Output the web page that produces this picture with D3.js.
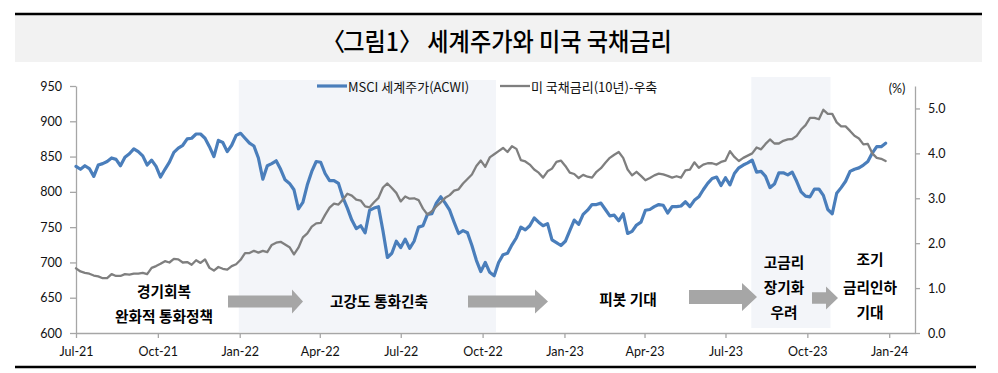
<!DOCTYPE html>
<html><head><meta charset="utf-8">
<script src="https://cdn.jsdelivr.net/npm/d3@7"></script>
<style>body{margin:0;background:#fff}svg{display:block}</style>
</head><body><svg id="c" width="998" height="373"></svg>
<script>
// ---------- DATA ----------
const titleParts = ["〈", "그림1", "〉", " 세계주가와 미국 국채금리"];
const seriesNames = ["MSCI 세계주가(ACWI)", "미 국채금리(10년)-우축"];
const startDate = "2021-07-01";   // first observation
const stepDays = 5;               // observations every 5 calendar days
const msci = [
836,832,837,833,822,838,840,843,848,846,
837,849,854,861,857,851,838,845,836,821,
832,842,856,862,866,875,876,882,882,876,
864,850,873,870,857,866,880,883,876,869,
865,848,818,837,840,844,832,817,812,803,
776,785,810,829,843,842,826,816,816,812,
792,777,760,748,752,742,774,777,779,745,
707,713,730,721,733,720,730,750,752,768,
769,784,793,784,774,757,741,745,742,724,
703,687,700,686,681,700,711,713,725,735,
750,746,752,763,757,752,755,732,728,724,
730,745,760,754,768,774,782,782,784,775,
766,767,759,769,741,744,753,757,774,775,
779,782,781,770,779,779,780,786,779,788,
793,803,812,819,821,809,820,810,826,834,
838,841,845,828,829,822,806,811,827,827,
824,828,815,800,794,793,804,804,795,775,
769,798,806,815,829,832,834,838,843,855,
864,864,869];
const ust10 = [
1.44,1.37,1.34,1.32,1.28,1.26,1.22,1.22,1.31,1.27,
1.27,1.31,1.30,1.32,1.32,1.34,1.31,1.45,1.49,1.54,
1.60,1.57,1.65,1.64,1.57,1.58,1.52,1.62,1.56,1.64,
1.45,1.39,1.47,1.43,1.41,1.49,1.53,1.63,1.78,1.78,
1.83,1.79,1.83,1.80,1.96,2.01,2.03,1.97,1.91,1.75,
1.90,2.13,2.22,2.37,2.44,2.45,2.63,2.79,2.88,2.86,
2.97,3.10,3.06,2.97,2.95,2.82,2.80,2.91,3.01,3.24,
3.33,3.23,3.12,2.93,3.04,2.99,3.00,2.96,2.77,2.64,
2.71,2.82,2.91,3.01,3.07,3.17,3.20,3.33,3.43,3.53,
3.72,3.84,3.70,3.91,3.98,4.05,4.12,4.03,4.16,4.10,
3.85,3.82,3.75,3.64,3.57,3.46,3.60,3.66,3.81,3.84,
3.72,3.57,3.54,3.45,3.52,3.48,3.46,3.59,3.67,3.79,
3.90,3.97,4.03,3.90,3.64,3.51,3.59,3.50,3.40,3.45,
3.51,3.55,3.53,3.50,3.46,3.49,3.46,3.62,3.64,3.80,
3.68,3.75,3.78,3.78,3.75,3.81,3.84,4.05,3.92,3.83,
3.90,3.95,4.00,4.13,4.09,4.21,4.31,4.22,4.22,4.28,
4.31,4.32,4.39,4.53,4.63,4.79,4.79,4.76,4.97,4.88,
4.88,4.69,4.60,4.60,4.50,4.39,4.33,4.20,4.21,4.00,
3.90,3.88,3.83];
const xDomain = ["2021-07-01", "2024-01-30"];
const xTickDates = ["2021-07-01","2021-10-01","2022-01-01","2022-04-01","2022-07-01","2022-10-01",
                    "2023-01-01","2023-04-01","2023-07-01","2023-10-01","2024-01-01"];
const leftDomain = [600, 950];
const leftTicks = [600, 650, 700, 750, 800, 850, 900, 950];
const rightDomain = [0, 5.5];
const rightTicks = [0, 1, 2, 3, 4, 5];
const shadePeriods = [["2021-12-31", "2022-10-16"], ["2023-07-30", "2023-10-27"]];
const phaseLabels = [["경기회복", "완화적 통화정책"], ["고강도 통화긴축"], ["피봇 기대"],
                     ["고금리", "장기화", "우려"], ["조기", "금리인하", "기대"]];

// ---------- DRAW ----------
const parse = d3.timeParse("%Y-%m-%d");
const t0 = parse(startDate);
const dates = msci.map((_, i) => d3.timeDay.offset(t0, i * stepDays));
const svg = d3.select("#c");
const KR = "'Noto Sans CJK KR', 'Noto Sans', sans-serif";
const LAT = "Lato, 'Open Sans', sans-serif";

// title band
svg.append("rect").attr("x", 15).attr("y", 15).attr("width", 967).attr("height", 47).attr("fill", "#f2f2f2");
svg.append("line").attr("x1", 15).attr("x2", 982).attr("y1", 14).attr("y2", 14).attr("stroke", "#000").attr("stroke-width", 2.5);
const title = svg.append("text").attr("x", 0).attr("y", 0).attr("dominant-baseline", "central")
  .style("font-family", KR).style("font-size", "25px").style("font-weight", 500).attr("fill", "#000");
const partDx = [0, -2, 0, 0];
titleParts.forEach((p, i) => title.append("tspan").attr("dx", partDx[i]).text(p));
const bb = title.node().getBBox();
const sx = 350 / bb.width;
title.attr("transform", `translate(${497 - (bb.x + bb.width / 2) * sx},40) scale(${sx},1)`);
svg.append("line").attr("x1", 15).attr("x2", 976).attr("y1", 367).attr("y2", 367).attr("stroke", "#000").attr("stroke-width", 2.5);

const x = d3.scaleTime().domain(xDomain.map(parse)).range([76, 915]);
const yL = d3.scaleLinear().domain(leftDomain).range([333, 86]);
const yR = d3.scaleLinear().domain(rightDomain).range([333, 86]);

// shaded periods
const shadeY = [[80, 332], [77, 328]];
svg.selectAll("rect.shade").data(shadePeriods).join("rect").attr("class", "shade")
  .attr("x", d => x(parse(d[0]))).attr("width", d => x(parse(d[1])) - x(parse(d[0])))
  .attr("y", (d, i) => shadeY[i][0]).attr("height", (d, i) => shadeY[i][1] - shadeY[i][0])
  .attr("fill", "#f3f5f9");

// axes
const axisColor = "#a6a6a6";
function styleAxis(g) {
  g.selectAll("path.domain").attr("stroke", axisColor).attr("stroke-width", 1.3);
  g.selectAll(".tick line").attr("stroke", axisColor).attr("stroke-width", 1.3);
  g.selectAll(".tick text").attr("fill", "#111").style("font-family", LAT).style("font-size", "12.5px");
}
svg.append("g").attr("transform", "translate(76,0)")
  .call(d3.axisLeft(yL).tickValues(leftTicks).tickSize(6).tickPadding(8).tickSizeOuter(0)).call(styleAxis);
svg.append("g").attr("transform", "translate(915,0)")
  .call(d3.axisRight(yR).tickValues(rightTicks).tickFormat(d3.format(".1f")).tickSize(5).tickPadding(8).tickSizeOuter(0)).call(styleAxis);
svg.append("g").attr("transform", "translate(0,333)")
  .call(d3.axisBottom(x).tickValues(xTickDates.map(parse)).tickFormat(d3.timeFormat("%b-%y")).tickSize(5).tickPadding(9).tickSizeOuter(0)).call(styleAxis);
svg.append("text").attr("x", 897).attr("y", 88).attr("text-anchor", "middle").attr("dominant-baseline", "central")
  .style("font-family", LAT).style("font-size", "12.5px").attr("fill", "#111").text("(%)");

// lines
const blue = "#4a7ebb", gray = "#7f7f7f";
svg.append("path").datum(msci).attr("fill", "none").attr("stroke", blue).attr("stroke-width", 3.2)
  .attr("stroke-linejoin", "round").attr("stroke-linecap", "round")
  .attr("d", d3.line().x((d, i) => x(dates[i])).y(d => yL(d)));
svg.append("path").datum(ust10).attr("fill", "none").attr("stroke", gray).attr("stroke-width", 2.3)
  .attr("stroke-linejoin", "round").attr("stroke-linecap", "round")
  .attr("d", d3.line().x((d, i) => x(dates[i])).y(d => yR(d)));

// legend
const legend = [{name: seriesNames[0], color: blue, w: 3.2, x: 317}, {name: seriesNames[1], color: gray, w: 2.3, x: 500}];
legend.forEach(l => {
  svg.append("line").attr("x1", l.x).attr("x2", l.x + 30).attr("y1", 86).attr("y2", 86).attr("stroke", l.color).attr("stroke-width", l.w);
  svg.append("text").attr("x", l.x + 31).attr("y", 86).attr("dominant-baseline", "central")
    .style("font-family", KR).style("font-size", "13px").attr("fill", "#111").text(l.name);
});

// phase arrows
const arrows = [[228, 303, 301.5, 12, 24, 11], [468, 548, 301.5, 12, 24, 13],
                [689, 757, 297, 14, 28, 15], [812, 838, 298, 11.5, 23, 12]];
arrows.forEach(([x0, x1, cy, bh, hh, hl]) => {
  const pts = [[x0, cy - bh/2], [x1 - hl, cy - bh/2], [x1 - hl, cy - hh/2], [x1, cy],
               [x1 - hl, cy + hh/2], [x1 - hl, cy + bh/2], [x0, cy + bh/2]];
  svg.append("polygon").attr("points", pts.map(p => p.join(",")).join(" ")).attr("fill", "#a6a6a6");
});

// phase labels
const labelPos = [[164, [290, 315.7]], [379, [300]], [628, [298]], [784, [261, 286, 311.5]], [870, [258, 286, 311.5]]];
phaseLabels.forEach((lines, k) => {
  lines.forEach((s, j) => {
    svg.append("text").attr("x", labelPos[k][0]).attr("y", labelPos[k][1][j])
      .attr("text-anchor", "middle").attr("dominant-baseline", "central")
      .style("font-family", KR).style("font-size", "14.7px").style("font-weight", 700).attr("fill", "#000").text(s);
  });
});
</script></body></html>
